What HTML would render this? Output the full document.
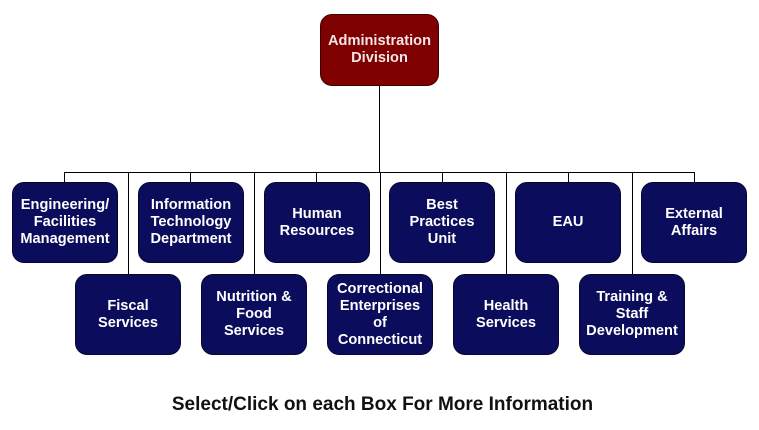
<!DOCTYPE html><html><head><style>
body{margin:0;width:759px;height:430px;background:#fff;position:relative;font-family:"Liberation Sans",sans-serif;overflow:hidden}
.b{position:absolute;width:106px;height:81px;background:#0c0c5c;border:1px solid #050530;border-radius:12px;box-sizing:border-box;color:#fff;font-weight:bold;font-size:14.6px;line-height:17px;display:flex;align-items:center;justify-content:center;text-align:center}
.l{position:absolute;background:#000}
</style></head><body>
<div class="l" style="left:379px;top:85px;width:1px;height:88px"></div>
<div class="l" style="left:64px;top:172px;width:631px;height:1px"></div>
<div class="l" style="left:64px;top:172px;width:1px;height:10px"></div>
<div class="l" style="left:190px;top:172px;width:1px;height:10px"></div>
<div class="l" style="left:316px;top:172px;width:1px;height:10px"></div>
<div class="l" style="left:442px;top:172px;width:1px;height:10px"></div>
<div class="l" style="left:568px;top:172px;width:1px;height:10px"></div>
<div class="l" style="left:694px;top:172px;width:1px;height:10px"></div>
<div class="l" style="left:128px;top:172px;width:1px;height:102px"></div>
<div class="l" style="left:254px;top:172px;width:1px;height:102px"></div>
<div class="l" style="left:380px;top:172px;width:1px;height:102px"></div>
<div class="l" style="left:506px;top:172px;width:1px;height:102px"></div>
<div class="l" style="left:632px;top:172px;width:1px;height:102px"></div>
<div class="b" style="left:320px;top:14px;width:119px;height:72px;background:#7f0000;border-color:#400000;color:#f4e6e6">Administration<br>Division</div>
<div class="b" style="left:12px;top:182px">Engineering/<br>Facilities<br>Management</div>
<div class="b" style="left:138px;top:182px">Information<br>Technology<br>Department</div>
<div class="b" style="left:264px;top:182px">Human<br>Resources</div>
<div class="b" style="left:389px;top:182px">Best<br>Practices<br>Unit</div>
<div class="b" style="left:515px;top:182px">EAU</div>
<div class="b" style="left:641px;top:182px">External<br>Affairs</div>
<div class="b" style="left:75px;top:274px">Fiscal<br>Services</div>
<div class="b" style="left:201px;top:274px">Nutrition &amp;<br>Food<br>Services</div>
<div class="b" style="left:327px;top:274px">Correctional<br>Enterprises<br>of<br>Connecticut</div>
<div class="b" style="left:453px;top:274px">Health<br>Services</div>
<div class="b" style="left:579px;top:274px">Training &amp;<br>Staff<br>Development</div>
<div style="position:absolute;left:0;width:765px;top:394px;text-align:center;font-weight:bold;font-size:19px;color:#111">Select/Click on each Box For More Information</div>
</body></html>
